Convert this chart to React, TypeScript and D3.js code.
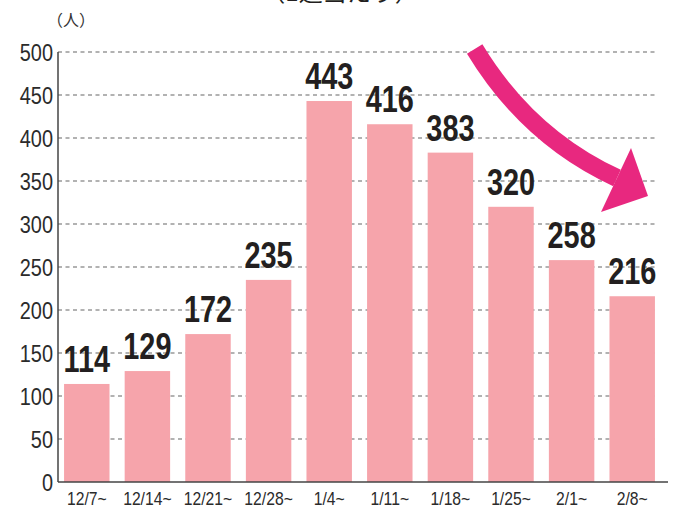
import React, { useEffect, useRef } from 'react';
import * as d3 from 'd3';

const weeks = ['12/7~', '12/14~', '12/21~', '12/28~', '1/4~', '1/11~', '1/18~', '1/25~', '2/1~', '2/8~'];
const patients = [114, 129, 172, 235, 443, 416, 383, 320, 258, 216];
const yTicks = [0, 50, 100, 150, 200, 250, 300, 350, 400, 450, 500];

const SANS = '"Liberation Sans", Arial, sans-serif';
const CJK = '"Noto Sans CJK JP", "Noto Sans CJK SC", sans-serif';

const App: React.FC = () => {
  const svgRef = useRef<SVGSVGElement>(null);

  useEffect(() => {
    if (!svgRef.current) return;
    const svg = d3.select(svgRef.current);
    svg.selectAll('*').remove();

    const left = 58, right = 661, top = 52, bottom = 482;

    const x = d3.scaleBand<string>()
      .domain(weeks)
      .range([left, right])
      .paddingInner(0.25)
      .paddingOuter(0.1);

    const y = d3.scaleLinear().domain([0, 500]).range([bottom, top]);

    // cropped title at the very top
    svg.append('text')
      .attr('x', 340)
      .attr('y', 1)
      .attr('text-anchor', 'middle')
      .attr('font-family', CJK)
      .attr('font-size', 24)
      .attr('fill', '#231f20')
      .text('（1週当たり）');

    // unit
    svg.append('text')
      .attr('x', 71)
      .attr('y', 26)
      .attr('text-anchor', 'middle')
      .attr('font-family', CJK)
      .attr('font-size', 16)
      .attr('fill', '#333')
      .text('（人）');

    // grid lines
    svg.append('g')
      .selectAll('line')
      .data(yTicks.filter(d => d > 0))
      .enter()
      .append('line')
      .attr('x1', left)
      .attr('x2', 656)
      .attr('y1', d => y(d))
      .attr('y2', d => y(d))
      .attr('stroke', '#999')
      .attr('stroke-width', 1.5)
      .attr('stroke-dasharray', '4,3.5');

    // y tick labels (narrowed)
    svg.append('g')
      .selectAll('text')
      .data(yTicks)
      .enter()
      .append('text')
      .attr('transform', d => `translate(53,${y(d)}) scale(0.83,1)`)
      .attr('dy', '0.36em')
      .attr('text-anchor', 'end')
      .attr('font-family', SANS)
      .attr('font-size', 24)
      .attr('fill', '#2b2b2b')
      .text(d => d);

    // bars
    svg.append('g')
      .selectAll('rect')
      .data(patients)
      .enter()
      .append('rect')
      .attr('x', (d, i) => x(weeks[i]) || 0)
      .attr('y', d => y(d))
      .attr('width', x.bandwidth())
      .attr('height', d => bottom - y(d))
      .attr('fill', '#f6a4ab');

    // value labels
    svg.append('g')
      .selectAll('text')
      .data(patients)
      .enter()
      .append('text')
      .attr('transform', (d, i) =>
        `translate(${(x(weeks[i]) || 0) + x.bandwidth() / 2},${y(d) - 12}) scale(0.78,1)`)
      .attr('text-anchor', 'middle')
      .attr('font-family', SANS)
      .attr('font-weight', 'bold')
      .attr('font-size', 37)
      .attr('fill', '#231f20')
      .text(d => d);

    // axes lines
    svg.append('line')
      .attr('x1', left).attr('x2', left)
      .attr('y1', top).attr('y2', bottom)
      .attr('stroke', '#444').attr('stroke-width', 1.5);
    svg.append('line')
      .attr('x1', left).attr('x2', 668)
      .attr('y1', bottom).attr('y2', bottom)
      .attr('stroke', '#444').attr('stroke-width', 1.5);

    // x labels
    svg.append('g')
      .selectAll('text')
      .data(weeks)
      .enter()
      .append('text')
      .attr('transform', d => `translate(${(x(d) || 0) + x.bandwidth() / 2},505) scale(0.85,1)`)
      .attr('text-anchor', 'middle')
      .attr('font-family', SANS)
      .attr('font-size', 18.5)
      .attr('fill', '#2b2b2b')
      .text(d => d);

    // decreasing trend arrow
    const sx = (x('1/18~') || 0) + 47;
    const sy = y(500) - 3;
    const ex = 617, ey = 178;
    svg.append('path')
      .attr('d', `M${sx},${sy} Q528,137 ${ex},${ey}`)
      .attr('fill', 'none')
      .attr('stroke', '#e8287f')
      .attr('stroke-width', 18);
    svg.append('path')
      .attr('d', 'M631,148 L648,196 L601,212 Z')
      .attr('fill', '#e8287f');
  }, []);

  return (
    <svg ref={svgRef} width={675} height={508}
      style={{ position: 'absolute', left: 0, top: 0, background: '#fff' }} />
  );
};

export default App;
